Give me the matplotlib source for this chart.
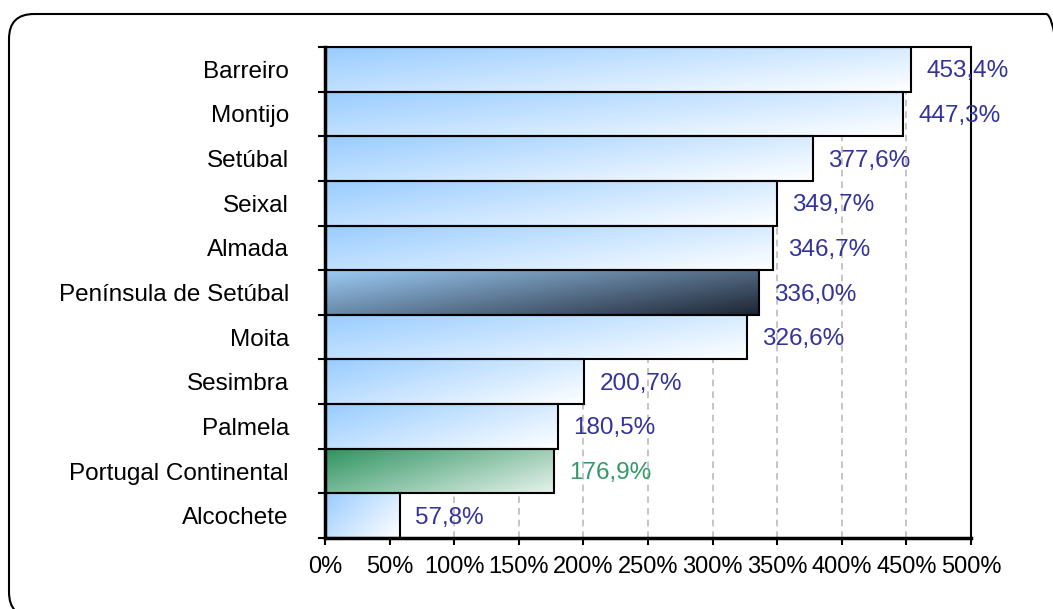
import numpy as np
import matplotlib
matplotlib.use("Agg")
import matplotlib.pyplot as plt
from matplotlib.colors import LinearSegmentedColormap
from matplotlib.patches import FancyBboxPatch, Rectangle
from matplotlib.transforms import IdentityTransform
from matplotlib.ticker import FixedLocator

plt.rcParams['font.family'] = ['Liberation Sans', 'DejaVu Sans']

## Dados
concelhos = ["Barreiro", "Montijo", "Setúbal", "Seixal", "Almada",
             "Península de Setúbal", "Moita", "Sesimbra", "Palmela",
             "Portugal Continental", "Alcochete"]
valores = [453.4, 447.3, 377.6, 349.7, 346.7, 336.0, 326.6, 200.7, 180.5, 176.9, 57.8]
rotulos = ["453,4%", "447,3%", "377,6%", "349,7%", "346,7%", "336,0%",
           "326,6%", "200,7%", "180,5%", "176,9%", "57,8%"]
xticks = [0, 50, 100, 150, 200, 250, 300, 350, 400, 450, 500]

azul = ("#99CCFF", "#FFFFFF")
escuro = ("#9CCBF5", "#1E2533")
verde = ("#2E9360", "#E6F2EC")

fig = plt.figure(figsize=(10.53, 6.09), dpi=100)
ax = fig.add_axes([325/1053, 1-538/609, (971-325)/1053, (538-47)/609])

n = len(concelhos)
ys = np.arange(n)[::-1]

u = np.linspace(0, 1, 80)
U, V = np.meshgrid(u, u)
T = 0.6*U + 0.4*V

for nome, v, y, lab in zip(concelhos, valores, ys, rotulos):
    if nome == "Península de Setúbal":
        cores, cor_txt = escuro, "#333399"
    elif nome == "Portugal Continental":
        cores, cor_txt = verde, "#339966"
    else:
        cores, cor_txt = azul, "#333399"
    cmap = LinearSegmentedColormap.from_list(nome, list(cores))
    ax.imshow(T, cmap=cmap, extent=(0, v, y-0.5, y+0.5), origin='upper',
              aspect='auto', interpolation='bilinear', zorder=2)
    ax.add_patch(Rectangle((0, y-0.5), v, 1, fill=False, edgecolor='black',
                           linewidth=1.5, zorder=3))
    ax.annotate(lab, (v, y), xytext=(11, -1.5), textcoords='offset points',
                va='center', ha='left', fontsize=17.5, color=cor_txt, zorder=4)

ax.set_xlim(0, 500)
ax.set_ylim(-0.5, n-0.5)

# grelha vertical tracejada
for x in xticks[1:-1]:
    ax.axvline(x, color='#BBBBBB', linestyle=(0, (4, 3)), linewidth=1.2, zorder=1)

ax.set_xticks(xticks)
ax.set_xticklabels([f"{x}%" for x in xticks], fontsize=17)
ax.set_yticks(ys)
ax.set_yticklabels(concelhos, fontsize=17.5)
ax.yaxis.set_minor_locator(FixedLocator(np.arange(n+1)-0.5))
ax.tick_params(axis='y', which='major', length=0, pad=26)
ax.tick_params(axis='y', which='minor', length=5, width=1.5, direction='out')
ax.tick_params(axis='x', which='major', length=5, width=1.5, direction='out', pad=8)

ax.spines['left'].set_linewidth(2.5)
ax.spines['bottom'].set_linewidth(2.5)
ax.spines['top'].set_linewidth(1.5)
ax.spines['right'].set_linewidth(1.5)

# moldura arredondada
frame = FancyBboxPatch((9, -8), 1062, 603, boxstyle="round,pad=0,rounding_size=25",
                       transform=IdentityTransform(), fill=False,
                       edgecolor='black', linewidth=1.5)
fig.add_artist(frame)

fig.savefig("out.png", dpi=100)
